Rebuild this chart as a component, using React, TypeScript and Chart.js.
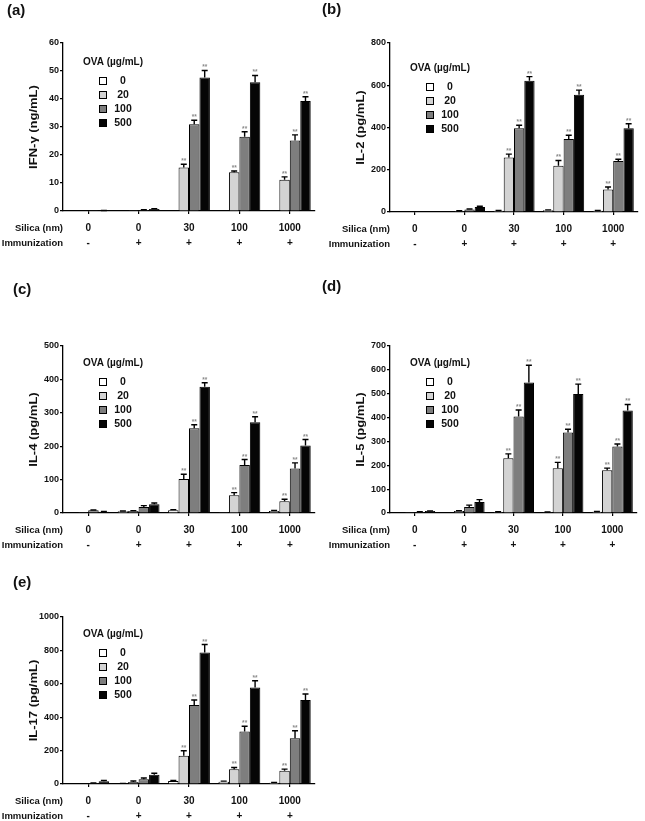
import React, { useEffect, useRef } from "react";
import { Chart, registerables } from "chart.js";
Chart.register(...registerables);

const FONT = "'Liberation Sans', Arial, sans-serif";

// ---- shared categories ----
const silica = ["0", "0", "30", "100", "1000"];
const immunization = ["-", "+", "+", "+", "+"];
const ovaDoses = ["0", "20", "100", "500"];
const ovaColors = ["#ffffff", "#d3d3d3", "#7e7e7e", "#050505"];
const sigNone = ["", "", "", "", ""];
const sigTreated = ["", "", "**", "**", "**"];

// ---- (a) IFN-γ (ng/mL) ----
const ifnOva0 = [0, 0, 0, 0, 0];
const ifnOva20 = [0, 0.05, 15.5, 13.8, 11.2];
const ifnOva100 = [0.05, 0.35, 31.0, 26.5, 25.2];
const ifnOva500 = [0.15, 0.7, 47.7, 46.0, 39.3];
const ifnErr0 = [0, 0, 0, 0, 0];
const ifnErr20 = [0, 0, 1.2, 0.5, 1.0];
const ifnErr100 = [0, 0.1, 1.4, 1.8, 2.0];
const ifnErr500 = [0.05, 0.15, 2.5, 2.4, 1.5];

// ---- (b) IL-2 (pg/mL) ----
const il2Ova0 = [0, 2, 6, 8, 6];
const il2Ova20 = [0, 5, 258, 219, 106];
const il2Ova100 = [0, 12, 396, 345, 242];
const il2Ova500 = [0, 24, 621, 555, 396];
const il2Err0 = [0, 0, 1, 2, 1];
const il2Err20 = [0, 1, 16, 25, 12];
const il2Err100 = [0, 2, 15, 18, 8];
const il2Err500 = [0, 3, 20, 22, 22];

// ---- (c) IL-4 (pg/mL) ----
const il4Ova0 = [1, 5, 8, 2, 6];
const il4Ova20 = [2, 6, 102, 53, 35];
const il4Ova100 = [8, 18, 254, 144, 133];
const il4Ova500 = [4, 26, 378, 272, 202];
const il4Err0 = [0, 1, 2, 0, 2];
const il4Err20 = [0, 1, 14, 8, 6];
const il4Err100 = [1, 4, 10, 16, 17];
const il4Err500 = [1, 4, 12, 16, 18];

// ---- (d) IL-5 (pg/mL) ----
const il5Ova0 = [2, 2, 4, 3, 5];
const il5Ova20 = [3, 8, 229, 188, 179];
const il5Ova100 = [4, 25, 404, 337, 279];
const il5Ova500 = [8, 46, 547, 499, 430];
const il5Err0 = [0, 0, 1, 1, 1];
const il5Err20 = [0, 2, 19, 24, 9];
const il5Err100 = [1, 8, 28, 14, 10];
const il5Err500 = [1, 10, 72, 41, 25];

// ---- (e) IL-17 (pg/mL) ----
const il17Ova0 = [0, 3, 18, 14, 8];
const il17Ova20 = [2, 12, 169, 89, 80];
const il17Ova100 = [5, 28, 473, 314, 274];
const il17Ova500 = [16, 56, 787, 578, 503];
const il17Err0 = [0, 1, 4, 3, 2];
const il17Err20 = [0, 6, 30, 10, 9];
const il17Err100 = [1, 8, 30, 32, 45];
const il17Err500 = [6, 8, 48, 40, 36];

type Box = { x: number; y: number; w: number; h: number };
type Area = { l: number; t: number; r: number; b: number };
type Panel = {
  tag: string;
  title: string;
  max: number;
  step: number;
  values: number[][];
  errors: number[][];
  box: Box;
  area: Area;
  tagPos: [number, number];
  legendDy: number;
};

const panels: Panel[] = [
  {
    tag: "(a)", title: "IFN-γ (ng/mL)", max: 60, step: 10,
    values: [ifnOva0, ifnOva20, ifnOva100, ifnOva500],
    errors: [ifnErr0, ifnErr20, ifnErr100, ifnErr500],
    box: { x: 0, y: 0, w: 322, h: 260 },
    area: { l: 63, t: 43, r: 315, b: 211 },
    tagPos: [7, 11], legendDy: 19,
  },
  {
    tag: "(b)", title: "IL-2 (pg/mL)", max: 800, step: 200,
    values: [il2Ova0, il2Ova20, il2Ova100, il2Ova500],
    errors: [il2Err0, il2Err20, il2Err100, il2Err500],
    box: { x: 322, y: 0, w: 323, h: 260 },
    area: { l: 390, t: 43, r: 638, b: 212 },
    tagPos: [322, 10], legendDy: 25,
  },
  {
    tag: "(c)", title: "IL-4 (pg/mL)", max: 500, step: 100,
    values: [il4Ova0, il4Ova20, il4Ova100, il4Ova500],
    errors: [il4Err0, il4Err20, il4Err100, il4Err500],
    box: { x: 0, y: 270, w: 322, h: 290 },
    area: { l: 63, t: 346, r: 315, b: 513 },
    tagPos: [13, 290], legendDy: 17,
  },
  {
    tag: "(d)", title: "IL-5 (pg/mL)", max: 700, step: 100,
    values: [il5Ova0, il5Ova20, il5Ova100, il5Ova500],
    errors: [il5Err0, il5Err20, il5Err100, il5Err500],
    box: { x: 322, y: 270, w: 323, h: 290 },
    area: { l: 390, t: 346, r: 637, b: 513 },
    tagPos: [322, 287], legendDy: 17,
  },
  {
    tag: "(e)", title: "IL-17 (pg/mL)", max: 1000, step: 200,
    values: [il17Ova0, il17Ova20, il17Ova100, il17Ova500],
    errors: [il17Err0, il17Err20, il17Err100, il17Err500],
    box: { x: 0, y: 540, w: 322, h: 281 },
    area: { l: 63, t: 617, r: 315, b: 784 },
    tagPos: [13, 583], legendDy: 17,
  },
];

const sigMarks = [sigNone, sigTreated, sigTreated, sigTreated];

function makeOverlay(p: Panel) {
  return {
    id: "overlay",
    afterDatasetsDraw(chart: any) {
      const ctx: CanvasRenderingContext2D = chart.ctx;
      const yS = chart.scales.y;
      ctx.save();
      chart.data.datasets.forEach((ds: any, di: number) => {
        const meta = chart.getDatasetMeta(di);
        meta.data.forEach((el: any, j: number) => {
          const v = ds.data[j];
          const e = ds.errors[j];
          const yTop = yS.getPixelForValue(v);
          const yErr = yS.getPixelForValue(v + e);
          if (e > 0) {
            ctx.strokeStyle = "#000";
            ctx.lineWidth = 1.4;
            ctx.beginPath();
            ctx.moveTo(el.x, yTop);
            ctx.lineTo(el.x, yErr);
            ctx.moveTo(el.x - 3, yErr);
            ctx.lineTo(el.x + 3, yErr);
            ctx.stroke();
          }
          const s = ds.sig[j];
          if (s) {
            ctx.fillStyle = "#8a8a8a";
            ctx.font = `bold 6.5px ${FONT}`;
            ctx.textAlign = "center";
            ctx.textBaseline = "alphabetic";
            ctx.fillText(s, el.x, yErr - 1);
          }
        });
      });
      ctx.restore();
    },
    afterDraw(chart: any) {
      const ctx: CanvasRenderingContext2D = chart.ctx;
      const xS = chart.scales.x;
      const ox = p.box.x, oy = p.box.y;
      const L = p.area.l - ox, T = p.area.t - oy, B = p.area.b - oy;
      ctx.save();
      ctx.fillStyle = "#111";
      // panel tag
      ctx.font = `bold 15px ${FONT}`;
      ctx.textAlign = "left";
      ctx.textBaseline = "middle";
      ctx.fillText(p.tag, p.tagPos[0] - ox, p.tagPos[1] - oy);
      // y title (stretched along its length)
      ctx.save();
      ctx.translate(L - 28.5, (T + B) / 2);
      ctx.rotate(-Math.PI / 2);
      ctx.scale(1.3, 1);
      ctx.font = `bold 10px ${FONT}`;
      ctx.textAlign = "center";
      ctx.textBaseline = "middle";
      ctx.fillText(p.title, 0, 0);
      ctx.restore();
      // table rows
      ctx.font = `bold 9.5px ${FONT}`;
      ctx.textBaseline = "middle";
      ctx.textAlign = "right";
      ctx.fillText("Silica (nm)", L, B + 17);
      ctx.fillText("Immunization", L, B + 32);
      ctx.font = `bold 10px ${FONT}`;
      ctx.textAlign = "center";
      silica.forEach((s, i) => {
        const x = xS.getPixelForValue(i);
        ctx.fillText(s, x, B + 17);
        ctx.fillText(immunization[i], x, B + 32);
      });
      // legend
      const hy = T + p.legendDy;
      ctx.textAlign = "left";
      ctx.font = `bold 10px ${FONT}`;
      ctx.fillText("OVA (µg/mL)", L + 20, hy);
      ctx.font = `bold 10.5px ${FONT}`;
      chart.data.datasets.forEach((ds: any, i: number) => {
        const ry = hy + 19 + 14 * i;
        const bx = L + 36;
        ctx.fillStyle = ds.backgroundColor;
        ctx.fillRect(bx, ry - 4, 8, 8);
        ctx.strokeStyle = "#000";
        ctx.lineWidth = 1;
        ctx.strokeRect(bx + 0.5, ry - 3.5, 7, 7);
        ctx.fillStyle = "#111";
        ctx.textAlign = "center";
        ctx.fillText(ds.label, bx + 24, ry);
      });
      ctx.restore();
    },
  };
}

function PanelChart({ p }: { p: Panel }) {
  const ref = useRef<HTMLCanvasElement | null>(null);
  useEffect(() => {
    if (!ref.current) return;
    const tickFont = { family: FONT, size: 9, weight: "bold" as const };
    const chart = new Chart(ref.current, {
      type: "bar",
      data: {
        labels: silica,
        datasets: p.values.map((vals, i) => ({
          label: ovaDoses[i],
          data: vals,
          errors: p.errors[i],
          sig: sigMarks[i],
          backgroundColor: ovaColors[i],
          borderColor: "#000",
          borderWidth: 1,
          categoryPercentage: 0.83,
          barPercentage: 1.0,
        })) as any,
      },
      options: {
        animation: false,
        responsive: false,
        maintainAspectRatio: false,
        devicePixelRatio: 1,
        layout: {
          padding: {
            left: 0,
            top: p.area.t - p.box.y,
            right: p.box.x + p.box.w - p.area.r,
            bottom: 0,
          },
        },
        plugins: { legend: { display: false }, tooltip: { enabled: false } },
        scales: {
          x: {
            type: "category",
            offset: true,
            grid: {
              display: true,
              drawOnChartArea: false,
              drawTicks: true,
              tickLength: 3,
              offset: false,
              color: "#000",
              lineWidth: 1.2,
            },
            border: { display: true, color: "#000", width: 1.3 },
            ticks: { display: false },
            afterFit: (s: any) => {
              s.height = p.box.y + p.box.h - p.area.b;
            },
          },
          y: {
            min: 0,
            max: p.max,
            ticks: {
              stepSize: p.step,
              font: tickFont,
              color: "#111",
              padding: 1,
              callback: (v: any) => String(v),
            },
            grid: {
              display: true,
              drawOnChartArea: false,
              drawTicks: true,
              tickLength: 3,
              color: "#000",
              lineWidth: 1.2,
            },
            border: { display: true, color: "#000", width: 1.3 },
            afterFit: (s: any) => {
              s.width = p.area.l - p.box.x;
            },
          },
        },
      } as any,
      plugins: [makeOverlay(p)],
    });
    return () => chart.destroy();
  }, [p]);
  return (
    <canvas
      ref={ref}
      width={p.box.w}
      height={p.box.h}
      style={{
        position: "absolute",
        left: p.box.x,
        top: p.box.y,
        width: p.box.w,
        height: p.box.h,
      }}
    />
  );
}

export default function App() {
  return (
    <div
      style={{
        position: "fixed",
        left: 0,
        top: 0,
        width: 645,
        height: 821,
        background: "#fff",
        overflow: "hidden",
      }}
    >
      {panels.map((p) => (
        <PanelChart key={p.tag} p={p} />
      ))}
    </div>
  );
}
